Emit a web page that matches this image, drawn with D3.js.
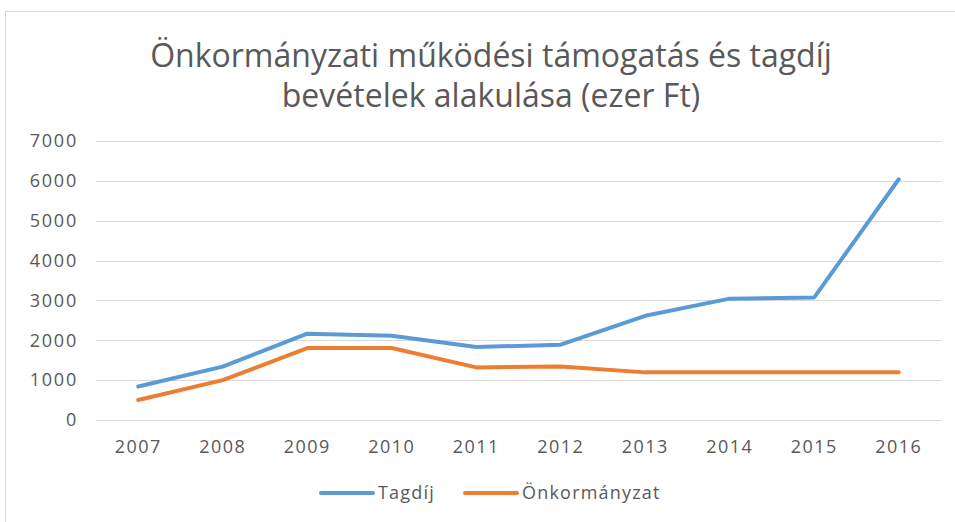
<!DOCTYPE html>
<html>
<head>
<meta charset="utf-8">
<script src="https://cdn.jsdelivr.net/npm/d3@7"></script>
<style>
  body { margin: 0; background: #fff; }
  text { font-family: "Open Sans", "Noto Sans", sans-serif; fill: #595959; }
</style>
</head>
<body>
<div class="chart"></div>
<script>
const years = ["2007", "2008", "2009", "2010", "2011", "2012", "2013", "2014", "2015", "2016"];
const tagdij = [840, 1340, 2165, 2115, 1830, 1890, 2615, 3045, 3075, 6040];
const onkormanyzat = [500, 1000, 1805, 1805, 1320, 1345, 1195, 1195, 1195, 1195];
const yTicks = [0, 1000, 2000, 3000, 4000, 5000, 6000, 7000];
const seriesNames = ["Tagdíj", "Önkormányzat"];
const colors = ["#5B9BD5", "#ED7D31"];

const width = 955, height = 522;
const margin = { top: 141, right: 14, bottom: 102, left: 96 };

const svg = d3.select(".chart")
  .append("svg")
  .attr("width", width)
  .attr("height", height);

// frame
svg.append("rect")
  .attr("x", 5.5).attr("y", 11.5)
  .attr("width", width + 10).attr("height", height + 10)
  .attr("fill", "none")
  .attr("stroke", "#D9D9D9");

// title
const title = svg.append("text")
  .attr("text-anchor", "middle")
  .attr("font-size", 32);
title.append("tspan").attr("x", 491).attr("y", 67).text("Önkormányzati működési támogatás és tagdíj");
title.append("tspan").attr("x", 491).attr("y", 107).text("bevételek alakulása (ezer Ft)");

const xScale = d3.scalePoint()
  .domain(years)
  .range([margin.left, width - margin.right])
  .padding(0.5);

const yScale = d3.scaleLinear()
  .domain([0, 7000])
  .range([height - margin.bottom, margin.top]);

// gridlines
svg.append("g")
  .selectAll("line")
  .data(yTicks)
  .join("line")
  .attr("x1", margin.left)
  .attr("x2", width - margin.right)
  .attr("y1", d => Math.round(yScale(d)) + 0.5)
  .attr("y2", d => Math.round(yScale(d)) + 0.5)
  .attr("stroke", "#D9D9D9")
  .attr("stroke-width", 1);

// y labels
svg.append("g")
  .selectAll("text")
  .data(yTicks)
  .join("text")
  .attr("x", 78)
  .attr("y", d => yScale(d))
  .attr("dy", "0.35em")
  .attr("text-anchor", "end")
  .attr("font-size", 18)
  .attr("letter-spacing", 1.8)
  .text(d => d);

// x labels
svg.append("g")
  .selectAll("text")
  .data(years)
  .join("text")
  .attr("x", d => xScale(d))
  .attr("y", 447)
  .attr("dy", "0.35em")
  .attr("text-anchor", "middle")
  .attr("font-size", 18)
  .attr("letter-spacing", 1.5)
  .text(d => d);

// lines
const line = d3.line()
  .x((d, i) => xScale(years[i]))
  .y(d => yScale(d));

[tagdij, onkormanyzat].forEach((values, i) => {
  svg.append("path")
    .datum(values)
    .attr("d", line)
    .attr("fill", "none")
    .attr("stroke", colors[i])
    .attr("stroke-width", 4)
    .attr("stroke-linejoin", "round")
    .attr("stroke-linecap", "round");
});

// legend
const legendX = [321, 465];
const legend = svg.append("g")
  .selectAll("g")
  .data(seriesNames)
  .join("g")
  .attr("transform", (d, i) => `translate(${legendX[i]}, 493)`);

legend.append("line")
  .attr("x1", 0).attr("x2", 52)
  .attr("y1", 0).attr("y2", 0)
  .attr("stroke", (d, i) => colors[i])
  .attr("stroke-width", 4)
  .attr("stroke-linecap", "round");

legend.append("text")
  .attr("x", 57)
  .attr("y", 0)
  .attr("dy", "0.35em")
  .attr("font-size", 18)
  .attr("letter-spacing", 1.2)
  .text(d => d);
</script>
</body>
</html>
